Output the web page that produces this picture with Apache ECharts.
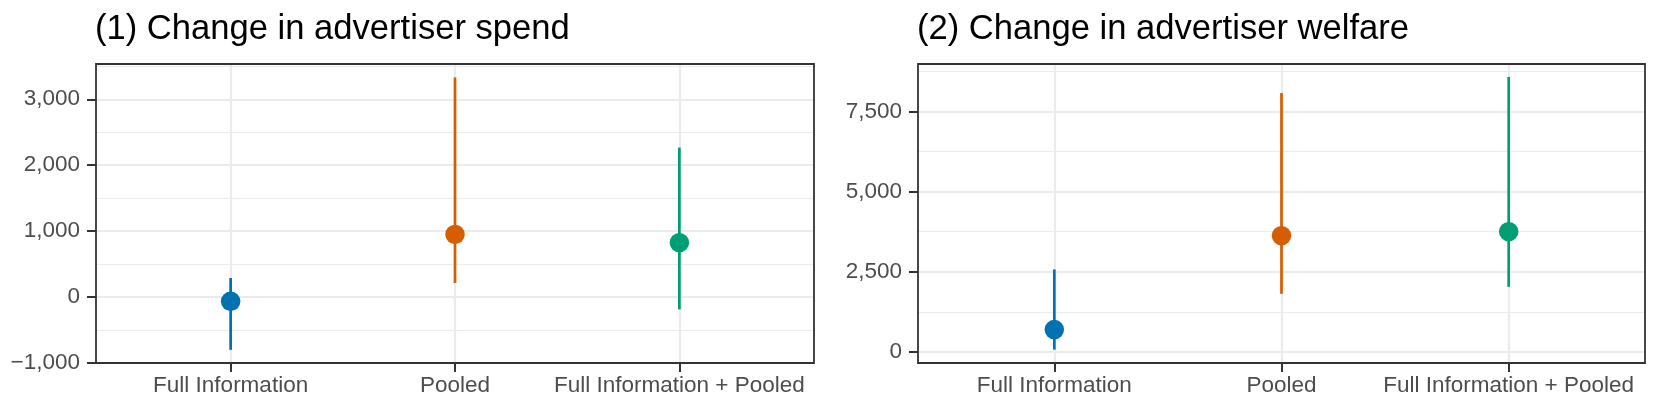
<!DOCTYPE html>
<html>
<head>
<meta charset="utf-8">
<script src="https://cdn.jsdelivr.net/npm/echarts@6/dist/echarts.min.js"></script>
<style>
html,body{margin:0;padding:0;background:#fff;}
#chart{width:1661px;height:415px;}
</style>
</head>
<body>
<div id="chart"></div>
<script>
// ---- data ----
const categories = ['Full Information', 'Pooled', 'Full Information + Pooled'];
const colors = ['#0072B2', '#D55E00', '#009E73'];

const spendEst = [-65, 950, 825];
const spendLo = [-800, 213, -187];
const spendHi = [289, 3332, 2268];

const welfareEst = [698, 3625, 3750];
const welfareLo = [73, 1812, 2031];
const welfareHi = [2573, 8073, 8573];

const spendTicks = [-1000, 0, 1000, 2000, 3000];
const spendMinor = [-500, 500, 1500, 2500, 3500];
const welfareTicks = [0, 2500, 5000, 7500];
const welfareMinor = [1250, 3750, 6250, 8750];

const titles = ['(1) Change in advertiser spend', '(2) Change in advertiser welfare'];

// ---- chart ----
const FONT = 'Liberation Sans, Arial, Helvetica, sans-serif';
const AXIS_FS = 22.5;
const TITLE_FS = 34.6;
const catPos = categories.map((c, i) => i + 1);

function fmt(v) {
  const s = Math.abs(v).toLocaleString('en-US');
  return (v < 0 ? '\u2212' : '') + s;
}

const panels = [
  {left: 96, top: 64, width: 718, height: 299, min: -1000, max: 3535,
   ticks: spendTicks, minor: spendMinor, est: spendEst, lo: spendLo, hi: spendHi},
  {left: 918, top: 64, width: 727, height: 299, min: -344, max: 8979,
   ticks: welfareTicks, minor: welfareMinor, est: welfareEst, lo: welfareLo, hi: welfareHi}
];

const option = {
  animation: false,
  backgroundColor: '#ffffff',
  title: panels.map((p, k) => ({
    text: titles[k], left: p.left - 1, top: 12, padding: 0,
    textStyle: {fontFamily: FONT, fontSize: TITLE_FS, fontWeight: 'normal', color: '#000000'}
  })),
  grid: panels.map(p => ({
    left: p.left, top: p.top, width: p.width, height: p.height,
    show: true, borderColor: '#333333', borderWidth: 1.8, backgroundColor: 'transparent', z: 3
  })),
  xAxis: panels.map((p, k) => ({
    type: 'value', gridIndex: k, min: 0.4, max: 3.6, position: 'bottom',
    axisLine: {show: false, onZero: false},
    axisTick: {show: true, length: 9, lineStyle: {color: '#333333', width: 2}, customValues: catPos},
    axisLabel: {
      customValues: catPos, margin: 11,
      fontFamily: FONT, fontSize: AXIS_FS, color: '#4D4D4D',
      formatter: v => categories[Math.round(v) - 1] || ''
    },
    splitLine: {show: true, lineStyle: {color: '#EBEBEB', width: 2.2}}
  })),
  yAxis: [],
  series: []
};

panels.forEach((p, k) => {
  // major axis
  option.yAxis.push({
    type: 'value', gridIndex: k, min: p.min, max: p.max, position: 'left',
    axisLine: {show: false, onZero: false},
    axisTick: {show: true, length: 9, lineStyle: {color: '#333333', width: 2}, customValues: p.ticks},
    axisLabel: {customValues: p.ticks, margin: 16, fontFamily: FONT, fontSize: AXIS_FS, color: '#4D4D4D', formatter: fmt},
    splitLine: {show: true, lineStyle: {color: '#EBEBEB', width: 2.2}},
    z: 1
  });
  // minor grid axis
  option.yAxis.push({
    type: 'value', gridIndex: k, min: p.min, max: p.max, position: 'left',
    axisLine: {show: false, onZero: false},
    axisTick: {show: false, customValues: p.minor},
    axisLabel: {show: false, customValues: p.minor},
    splitLine: {show: true, lineStyle: {color: '#EBEBEB', width: 1.2}},
    z: 0
  });
});

panels.forEach((p, k) => {
  const yIdx = k * 2;
  option.series.push({
    type: 'custom', xAxisIndex: k, yAxisIndex: yIdx, z: 5,
    data: catPos.map((x, i) => [x, p.lo[i], p.hi[i]]),
    encode: {x: 0, y: [1, 2]},
    renderItem: (params, api) => {
      const a = api.coord([api.value(0), api.value(1)]);
      const b = api.coord([api.value(0), api.value(2)]);
      return {
        type: 'line',
        shape: {x1: a[0], y1: a[1], x2: b[0], y2: b[1]},
        style: {stroke: colors[params.dataIndex], lineWidth: 2.7}
      };
    }
  });
  option.series.push({
    type: 'scatter', xAxisIndex: k, yAxisIndex: yIdx, z: 6,
    symbol: 'circle', symbolSize: 19.5,
    data: catPos.map((x, i) => ({value: [x, p.est[i]], itemStyle: {color: colors[i], opacity: 1}}))
  });
});

const chart = echarts.init(document.getElementById('chart'), null, {renderer: 'canvas'});
chart.setOption(option);
</script>
</body>
</html>
